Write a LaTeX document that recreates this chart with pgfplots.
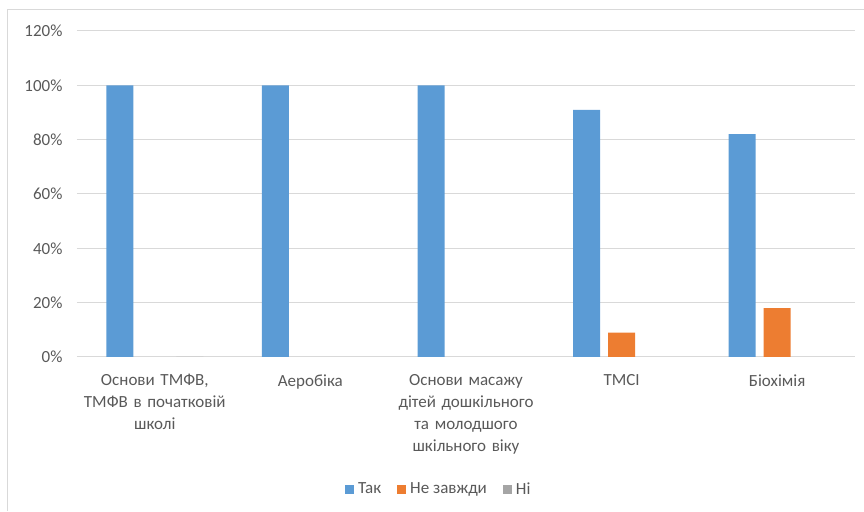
\documentclass[border=0pt]{standalone}
\usepackage{pgfplots}
\pgfplotsset{compat=1.18}
\usepackage{fontspec}
\setmainfont{Carlito}
\definecolor{cblue}{HTML}{5B9BD5}
\definecolor{corange}{HTML}{ED7D31}
\definecolor{cgray}{HTML}{A5A5A5}
\definecolor{gridc}{HTML}{D9D9D9}
\definecolor{txt}{HTML}{595959}
\begin{document}
\begin{tikzpicture}[x=1pt,y=1pt]
\path[use as bounding box] (0,0) rectangle (864,511);
\draw[gridc, line width=1pt] (7,0) -- (7,501) -- (864,501);
\begin{axis}[
  at={(77pt,154pt)}, anchor=south west,
  scale only axis, width=778pt, height=326pt,
  ybar=8pt, bar width=27pt,
  xmin=-0.5, xmax=4.5, ymin=0, ymax=120,
  ytick={0,20,40,60,80,100,120},
  yticklabel={\pgfmathparse{int(\tick)}\pgfmathresult\%},
  xtick={0,1,2,3,4},
  xticklabels={{Основи ТМФВ,\\ТМФВ в початковій\\школі},{Аеробіка},{Основи масажу\\дітей дошкільного\\та молодшого\\шкільного віку},{ТМСІ},{Біохімія}},
  xticklabel style={align=center, text width=170pt, font=\fontsize{17}{22}\selectfont, text=txt, yshift=-14pt},
  yticklabel style={font=\fontsize{17}{20}\selectfont, text=txt, xshift=-11pt},
  major tick length=0pt,
  ymajorgrids, xmajorgrids=false, grid style={gridc, line width=1pt},
  axis line style={draw=none},
  legend style={at={(0.465,-0.405)}, anchor=center, draw=none, legend columns=-1,
    font=\fontsize{17}{20}\selectfont, text=txt,
    /tikz/every odd column/.append style={column sep=2pt},
    /tikz/every even column/.append style={column sep=14pt}},
  legend image code/.code={\draw[#1, draw=none] (0pt,-4.5pt) rectangle (9pt,4.5pt);},
]
\addplot[fill=cblue, draw=none] coordinates {(0,100) (1,100) (2,100) (3,91) (4,82)};
\addplot[fill=corange, draw=none] coordinates {(3,9) (4,18)};
\addplot[fill=cgray, draw=none] coordinates {(0,0)};
\legend{Так,Не завжди,Ні}
\end{axis}
\end{tikzpicture}
\end{document}
